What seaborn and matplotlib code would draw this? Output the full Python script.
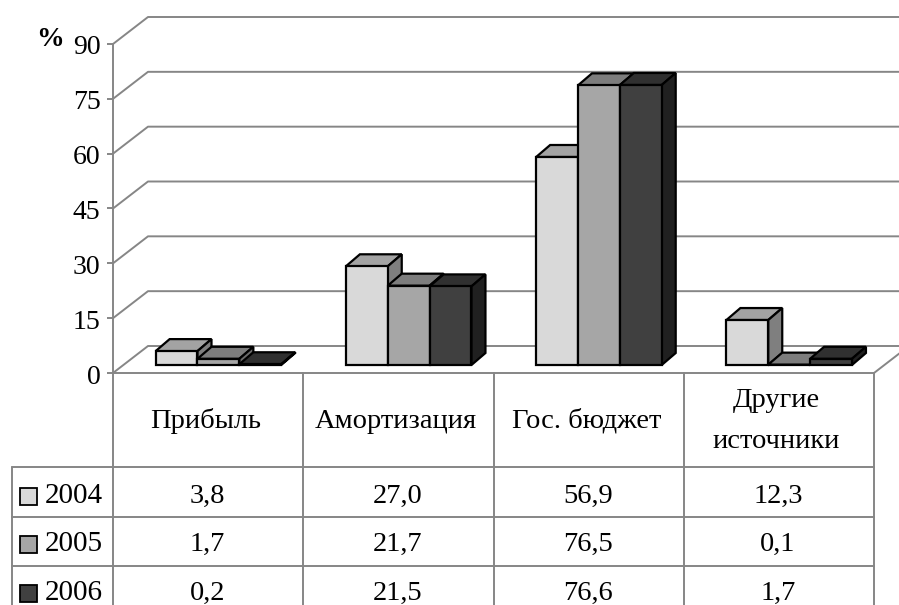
import matplotlib
matplotlib.use("Agg")
import matplotlib.pyplot as plt
import seaborn as sns
import pandas as pd
from matplotlib.patches import Polygon, Rectangle
from matplotlib.lines import Line2D
from matplotlib.transforms import Affine2D, blended_transform_factory

categories = ["Прибыль", "Амортизация", "Гос. бюджет", "Другие\nисточники"]
years = ["2004", "2005", "2006"]
values_2004 = [3.8, 27.0, 56.9, 12.3]
values_2005 = [1.7, 21.7, 76.5, 0.1]
values_2006 = [0.2, 21.5, 76.6, 1.7]
yticks = [0, 15, 30, 45, 60, 75, 90]

front_colors = ["#D9D9D9", "#A6A6A6", "#404040"]
top_colors = ["#A3A3A3", "#7D7D7D", "#303030"]
side_colors = ["#7F7F7F", "#6A6A6A", "#202020"]
GRAY = "#868686"
LW = 1.4
EDGE = 1.6

W, H = 899, 605
sns.set_theme(style="white")
plt.rcParams["font.family"] = ["Liberation Serif", "DejaVu Serif"]

fig = plt.figure(figsize=(W / 100, H / 100), dpi=100)
fig.patch.set_facecolor("white")


def fx(x):
    return x / W


def fy(y):
    return 1 - y / H


ax = fig.add_axes([fx(113), fy(373), (874 - 113) / W, (373 - 44) / H])
ax.patch.set_visible(False)

series = [values_2004, values_2005, values_2006]
df = pd.DataFrame({
    "cat": [c for _ in years for c in categories],
    "year": [y for y in years for _ in categories],
    "value": [v for s in series for v in s],
})
sns.barplot(data=df, x="cat", y="value", hue="year", hue_order=years, order=categories,
            palette=front_colors, saturation=1, width=0.66, gap=0, legend=False,
            edgecolor="black", linewidth=EDGE, ax=ax, zorder=5)
ax.set_xlim(-0.5, 3.5)
ax.set_ylim(0, 90)

# depth of the wall and of the bars, in pixels
wall = Affine2D().translate(35, 27)
bar_shift = ax.transData + Affine2D().translate(10.3, 8)
dx, dy = 14, 12

# walls: gridlines and floor
to_wall = ax.transData + wall
for t in yticks:
    p0 = ax.transData.transform((-0.5, t))
    p1 = to_wall.transform((-0.5, t))
    p2 = to_wall.transform((3.5, t))
    fig.add_artist(Line2D([p0[0], p1[0], p2[0]], [p0[1], p1[1], p2[1]], color=GRAY, lw=LW,
                          transform=None, zorder=0))
ax.plot([-0.5, 3.5], [0, 0], color=GRAY, lw=LW, clip_on=False, zorder=1)
p0 = ax.transData.transform((3.5, 0))
p1 = to_wall.transform((3.5, 0))
fig.add_artist(Line2D([p0[0], p1[0]], [p0[1], p1[1]], color=GRAY, lw=LW, transform=None, zorder=0))

# bars: extrude each one from its own rectangle
bars = [b for b in ax.patches if isinstance(b, Rectangle)]
bars = sorted(bars, key=lambda b: b.get_x())
for i, b in enumerate(bars):
    k = i % 3
    z = 5 + i
    b.set_transform(bar_shift)
    b.set_clip_on(False)
    b.set_zorder(z + 0.2)
    x0, x1 = b.get_x(), b.get_x() + b.get_width()
    (ax0, ay0), (ax1, ay1) = bar_shift.transform([(x0, 0), (x1, b.get_height())])
    top = [(ax0, ay1), (ax1, ay1), (ax1 + dx, ay1 + dy), (ax0 + dx, ay1 + dy)]
    side = [(ax1, ay0), (ax1 + dx, ay0 + dy), (ax1 + dx, ay1 + dy), (ax1, ay1)]
    for pts, col in ((top, top_colors[k]), (side, side_colors[k])):
        ax.add_patch(Polygon(pts, closed=True, fc=col, ec="black", lw=EDGE, transform=None,
                             clip_on=False, zorder=z))

# axis
for s in ("top", "right", "bottom"):
    ax.spines[s].set_visible(False)
ax.spines["left"].set_color(GRAY)
ax.spines["left"].set_linewidth(LW)
ax.set_yticks(yticks)
ax.tick_params(axis="y", length=4.5, width=LW, color=GRAY, pad=4.5, labelsize=20,
               labelcolor="black", left=True)
for lab in ax.get_yticklabels():
    lab.set_transform(lab.get_transform() + Affine2D().translate(0, -1))
ax.set_xticks([])
ax.set_xlabel("")
ax.set_ylabel("")
ax.grid(False)
fig.text(fx(50), fy(40), "%", fontsize=20, fontweight="bold", ha="center", va="center", color="black")

# data table
row_lines = [467, 517, 566]
row_text = [496, 544, 593]
bt = blended_transform_factory(ax.transData, fig.transFigure)
for c in range(5):
    fig.add_artist(Line2D([c - 0.5, c - 0.5], [fy(373), 0], color=GRAY, lw=LW, transform=bt))
fig.add_artist(Line2D([fx(12), fx(12)], [fy(row_lines[0]), 0], color=GRAY, lw=LW))
for y in row_lines:
    fig.add_artist(Line2D([fx(12), fx(874)], [fy(y), fy(y)], color=GRAY, lw=LW))

for i, c in enumerate(categories):
    fig.text(i - 0.012, fy(421), c, transform=bt, ha="center", va="center", fontsize=20.5,
             linespacing=1.8, color="black")
for j, (yr, s) in enumerate(zip(years, series)):
    fig.add_artist(Rectangle((fx(20), fy(row_text[j] + 9)), 17 / W, 17 / H, fc=front_colors[j], ec="black",
                             lw=1.3, transform=fig.transFigure))
    fig.text(fx(45), fy(row_text[j]), yr, ha="left", va="center", fontsize=21, color="black")
    for i, v in enumerate(s):
        fig.text(i - 0.005, fy(row_text[j]), f"{v:.1f}".replace(".", ","), transform=bt, ha="center",
                 va="center", fontsize=20.5, color="black")

fig.savefig("out.png", dpi=100)
